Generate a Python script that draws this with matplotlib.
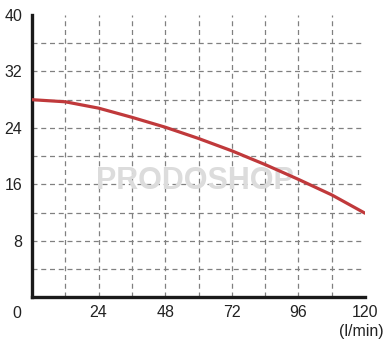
import numpy as np
import matplotlib.pyplot as plt

# flow (l/min) and head
flow = [0, 12, 24, 36, 48, 60, 72, 84, 96, 108, 120]
head = [28.0, 27.7, 26.8, 25.5, 24.1, 22.5, 20.75, 18.8, 16.7, 14.5, 11.9]

xticks = [24, 48, 72, 96, 120]
yticks = [8, 16, 24, 32, 40]

plt.rcParams['font.family'] = ['Liberation Sans', 'DejaVu Sans']

fig = plt.figure(figsize=(3.9, 3.5), dpi=100)
ax = fig.add_axes([0.082, 0.151, 0.854, 0.806])
ax.set_xlim(0, 120)
ax.set_ylim(0, 40)

# dashed grid
for gx in range(12, 120, 12):
    ax.axvline(gx, color='#808080', lw=0.9, ls=(0, (4, 3)), zorder=1)
for gy in range(4, 40, 4):
    ax.axhline(gy, color='#808080', lw=0.9, ls=(0, (4, 3)), zorder=1)

# watermark
ax.text(0.49, 0.41, 'PRODOSHOP', transform=ax.transAxes, ha='center', va='center',
        fontsize=22, fontweight='bold', color='#dcdcdc', zorder=2)

ax.plot(flow, head, color='#c0393b', lw=2.3, solid_capstyle='round', zorder=3)

ax.set_xticks(xticks)
ax.set_yticks(yticks)
ax.tick_params(length=0, labelsize=11.5, colors='#222222')
ax.tick_params(axis='x', pad=6)
ax.tick_params(axis='y', pad=7)

for s in ['top', 'right']:
    ax.spines[s].set_visible(False)
for s in ['left', 'bottom']:
    ax.spines[s].set_linewidth(2.4)
    ax.spines[s].set_color('#1a1a1a')

ax.text(-0.045, -0.03, '0', transform=ax.transAxes, ha='center', va='top',
        fontsize=11.5, color='#222222')
ax.text(0.99, -0.095, '(l/min)', transform=ax.transAxes, ha='center', va='top',
        fontsize=11.5, color='#222222')

fig.savefig('out.png', dpi=100)
